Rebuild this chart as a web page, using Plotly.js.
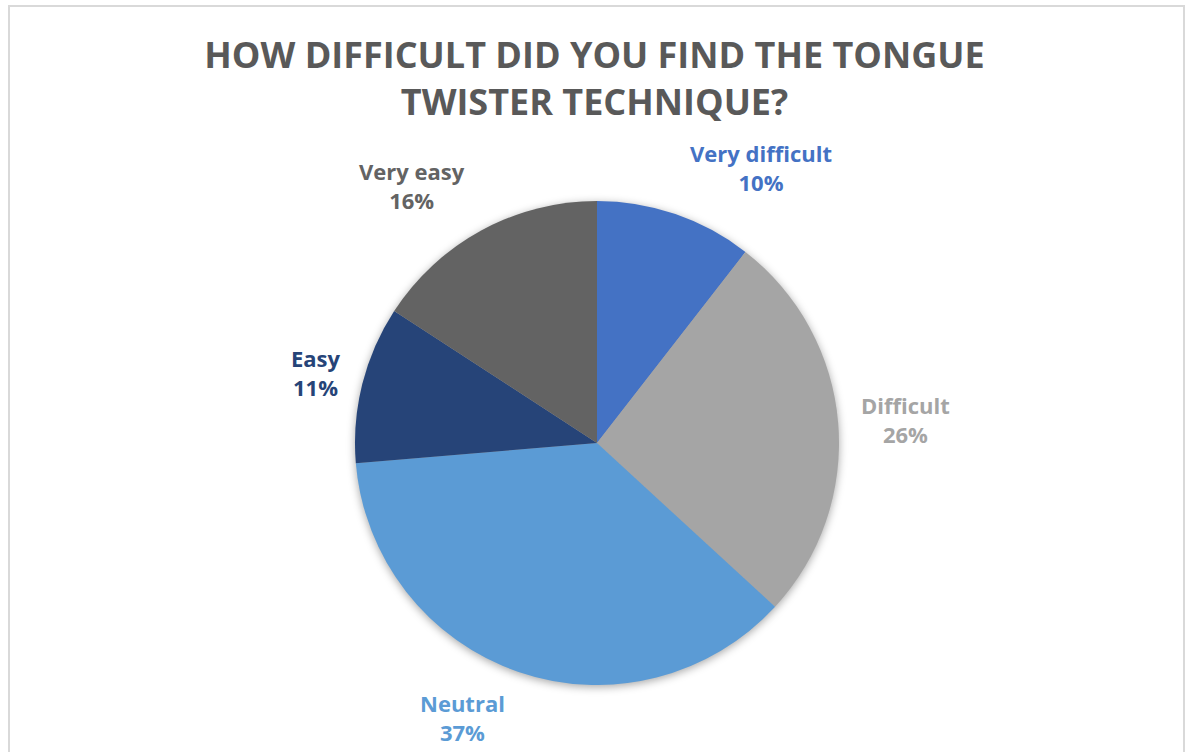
<!DOCTYPE html>
<html><head><meta charset="utf-8">
<script src="https://cdn.plot.ly/plotly-3.0.1.min.js"></script>
<style>html,body{margin:0;padding:0;background:#fff}#chart{width:1189px;height:752px}</style>
</head><body><div id="chart"></div>
<script>
const categories = ["Very difficult", "Difficult", "Neutral", "Easy", "Very easy"];
const sliceValues = [10.5, 26.3, 36.8, 10.5, 15.8];
const percentLabels = ["10%", "26%", "37%", "11%", "16%"];
const sliceColors = ["#4472C4", "#A5A5A5", "#5B9BD5", "#264478", "#636363"];
const labelColors = ["#4472C4", "#A5A5A5", "#5B9BD5", "#264478", "#636363"];
// label anchor positions in pixels (centre of text block)
const labelPos = [[761,168],[905,419],[463,717],[316,372],[412,185]];

const W = 1189, H = 752;
const cx = 597, cy = 443, r = 242;

const annotations = categories.map((c, i) => ({
  text: '<b>' + c + '<br>' + percentLabels[i] + '</b>',
  x: labelPos[i][0] / W, y: 1 - labelPos[i][1] / H,
  xref: 'paper', yref: 'paper', xanchor: 'center', yanchor: 'middle',
  showarrow: false, align: 'center',
  font: {family: 'Open Sans, sans-serif', size: 22, color: labelColors[i]}
}));

const data = [{
  type: 'pie',
  labels: categories,
  values: sliceValues,
  sort: false,
  direction: 'clockwise',
  rotation: 0,
  textinfo: 'none',
  hoverinfo: 'label+percent',
  marker: {colors: sliceColors, line: {color: '#ffffff', width: 0}},
  domain: {x: [(cx - r) / W, (cx + r) / W], y: [(H - cy - r) / H, (H - cy + r) / H]},
  showlegend: false
}];

const layout = {
  width: W, height: H,
  margin: {l: 0, r: 0, t: 0, b: 0},
  paper_bgcolor: '#ffffff',
  title: {
    text: '<b>HOW DIFFICULT DID YOU FIND THE TONGUE<br>TWISTER TECHNIQUE?</b>',
    x: 0.5, xanchor: 'center', y: 1 - 68 / H, yanchor: 'middle',
    font: {family: 'Open Sans, sans-serif', size: 36, color: '#595959'}
  },
  annotations: annotations,
  shapes: [{
    type: 'rect', xref: 'paper', yref: 'paper',
    x0: 9 / W, x1: 1184 / W, y0: -0.05, y1: 1 - 6 / H,
    line: {color: '#D9D9D9', width: 2}, fillcolor: 'rgba(0,0,0,0)', layer: 'below'
  }],
  showlegend: false
};

Plotly.newPlot('chart', data, layout, {displayModeBar: false, staticPlot: true}).then(() => {
  const pl = document.querySelector('#chart .pielayer');
  if (pl) pl.style.filter = 'drop-shadow(0px 2px 4px rgba(0,0,0,0.35))';
});
</script></body></html>
